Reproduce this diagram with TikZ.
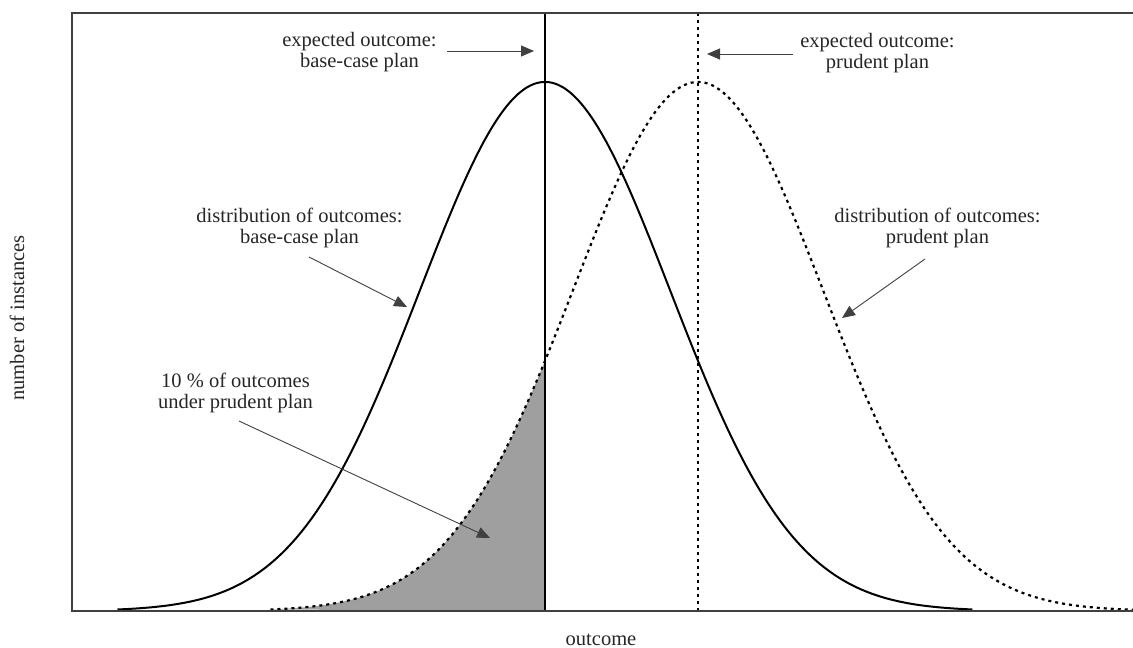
\documentclass[tikz,border=0pt]{standalone}
\usepackage{fontspec}
\setmainfont{Liberation Serif}
\usetikzlibrary{arrows.meta}
\begin{document}
\begin{tikzpicture}[x=1pt,y=-1pt,
  lbl/.style={align=center, font=\fontsize{20.5}{21}\selectfont, text=black!85, inner sep=0pt, anchor=base},
  pointer/.style={draw=black!75, line width=0.9pt, -{Triangle[length=13pt,width=11pt]}},
  solidcurve/.style={line width=2pt, black},
  dashcurve/.style={line width=2.2pt, black, dash pattern=on 3pt off 4pt},
  frameline/.style={line width=2.5pt, black!75}]
\useasboundingbox (0,0) rectangle (1133,648);
% shaded area: 10 % of prudent plan
\fill[gray!75] plot[domain=-3.42:-1.224, samples=60] ({698+125*\x},{611-529*exp(-0.5*(\x)*(\x))}) -- (545,611) -- cycle;
% distributions
\draw[solidcurve] plot[domain=-3.42:3.42, samples=120, smooth] ({545+125*\x},{611-529*exp(-0.5*(\x)*(\x))});
\draw[dashcurve] plot[domain=-3.42:3.48, samples=120, smooth] ({698+125*\x},{611-529*exp(-0.5*(\x)*(\x))});
% expected outcome lines
\coordinate (bt) at (545,13);
\coordinate (bb) at (545,611);
\coordinate (pt) at (698,13);
\coordinate (pb) at (698,611);
\draw[line width=2pt, black] (bt) -- (bb);
\draw[dashcurve] (pt) -- (pb);
% frame
\coordinate (tr) at (1133,13);
\coordinate (tl) at (72,13);
\coordinate (bl) at (72,611);
\coordinate (br) at (1133,611);
\draw[frameline] (tr) -- (tl) -- (bl) -- (br);
% labels (anchored at the baseline of the last line)
\node[lbl] (l1) at (359.5,67.7) {expected outcome:\\base-case plan};
\node[lbl] (l2) at (877.5,68) {expected outcome:\\prudent plan};
\node[lbl] (l3) at (299.5,243) {distribution of outcomes:\\base-case plan};
\node[lbl] (l4) at (937.5,243) {distribution of outcomes:\\prudent plan};
\node[lbl] (l5) at (235.5,408) {10 \% of outcomes\\under prudent plan};
\node[lbl, rotate=90, anchor=center] (yl) at (17,318) {number of instances};
\node[lbl] (xl) at (601,645) {outcome};
% arrows
\coordinate (a1s) at (447,51);  \coordinate (a1e) at (534,51);
\coordinate (a2s) at (793,54);  \coordinate (a2e) at (707,54);
\coordinate (a3s) at (309,257); \coordinate (a3e) at (407,307);
\coordinate (a4s) at (925,259); \coordinate (a4e) at (842,318);
\coordinate (a5s) at (239,421); \coordinate (a5e) at (490,538);
\draw[pointer] (a1s) -- (a1e);
\draw[pointer] (a2s) -- (a2e);
\draw[pointer] (a3s) -- (a3e);
\draw[pointer] (a4s) -- (a4e);
\draw[pointer] (a5s) -- (a5e);
\end{tikzpicture}
\end{document}
